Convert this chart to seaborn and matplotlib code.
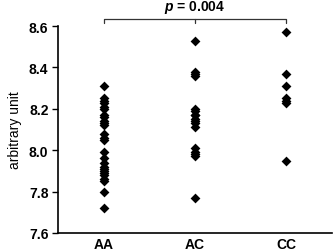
import matplotlib
matplotlib.use("Agg")
import matplotlib.pyplot as plt
import pandas as pd
import seaborn as sns

# genotype groups and values
genotypes = ['AA', 'AC', 'CC']
aa_values = [8.31, 8.25, 8.24, 8.23, 8.21, 8.20, 8.17, 8.16, 8.14, 8.13, 8.12,
             8.08, 8.06, 8.05, 7.99, 7.96, 7.94, 7.92, 7.91, 7.90, 7.89, 7.88,
             7.86, 7.85, 7.80, 7.72]
ac_values = [8.53, 8.38, 8.37, 8.36, 8.20, 8.19, 8.17, 8.17, 8.15, 8.14, 8.13,
             8.11, 8.01, 7.99, 7.98, 7.97, 7.77]
cc_values = [8.57, 8.37, 8.31, 8.25, 8.24, 8.23, 7.95]
y_ticks = [7.6, 7.8, 8.0, 8.2, 8.4, 8.6]
p_label = '0.004'

df = pd.DataFrame({
    'Genotype': ['AA'] * len(aa_values) + ['AC'] * len(ac_values) + ['CC'] * len(cc_values),
    'Value': aa_values + ac_values + cc_values,
})

sns.set_style('white', {'text.color': 'black', 'axes.labelcolor': 'black',
                        'xtick.color': 'black', 'ytick.color': 'black'})
plt.rcParams['font.family'] = ['Liberation Sans', 'DejaVu Sans']
plt.rcParams['mathtext.fontset'] = 'custom'
plt.rcParams['mathtext.it'] = 'Liberation Sans:italic:bold'

fig = plt.figure(figsize=(3.34, 2.51), dpi=100)
ax = fig.add_axes([0.174, 0.068, 0.82, 0.824])

sns.stripplot(data=df, x='Genotype', y='Value', order=genotypes, jitter=False,
              marker='D', color='black', size=5, linewidth=0, ax=ax)

ax.set_xlim(-0.5, 2.5)
ax.set_ylim(7.6, 8.6)
ax.set_yticks(y_ticks)
ax.set_yticklabels([f'{t:.1f}' for t in y_ticks], fontweight='bold', fontsize=10)
ax.set_xticklabels(genotypes, fontweight='bold', fontsize=10)
ax.set_xlabel('')
ax.set_ylabel('arbitrary unit', fontsize=10, labelpad=5, color='black')
ax.tick_params(axis='y', direction='out', length=4, width=1, left=True, pad=3, colors='black')
ax.tick_params(axis='x', length=0, pad=3, colors='black')

for side in ['top', 'right']:
    ax.spines[side].set_visible(False)
for side in ['left', 'bottom']:
    ax.spines[side].set_color('black')
    ax.spines[side].set_linewidth(1.2)

# significance bracket AA vs CC
y_bar, y_tick = 8.634, 8.614
ax.plot([0, 0, 2, 2], [y_tick, y_bar, y_bar, y_tick], color='#333333', lw=0.9, clip_on=False)
ax.plot([1, 1], [y_bar, y_tick], color='#333333', lw=0.9, clip_on=False)
ax.text(1, 8.655, '$p$ = ' + p_label, ha='center', va='bottom',
        fontsize=10, fontweight='bold', color='black')

fig.savefig('out.png', dpi=100)
